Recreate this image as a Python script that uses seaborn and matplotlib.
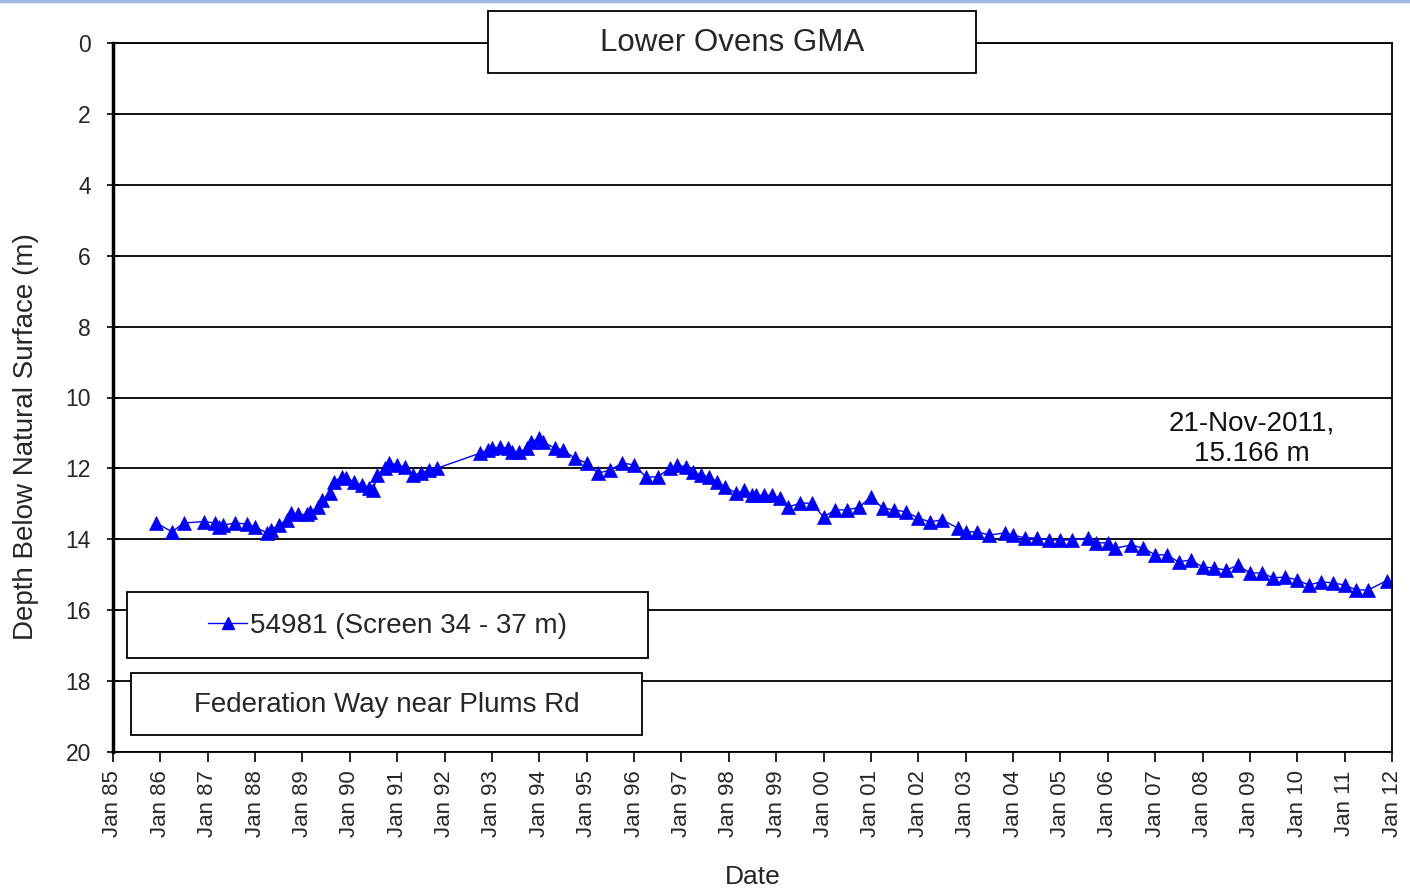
import matplotlib
matplotlib.use("Agg")
import matplotlib.pyplot as plt
import matplotlib.dates as mdates
from matplotlib.patches import Rectangle
from matplotlib.lines import Line2D
import seaborn as sns
import pandas as pd

dates = ["1985-12", "1986-04", "1986-07", "1986-12", "1987-03", "1987-04", "1987-05", "1987-08",
         "1987-11", "1988-01", "1988-04", "1988-05", "1988-07", "1988-09", "1988-10", "1988-12",
         "1989-02", "1989-03", "1989-05", "1989-06", "1989-08", "1989-09", "1989-11", "1989-12",
         "1990-02", "1990-04", "1990-06", "1990-07", "1990-08", "1990-10", "1990-11", "1991-01",
         "1991-03", "1991-05", "1991-07", "1991-09", "1991-11",
         "1992-10", "1992-12", "1993-01", "1993-03", "1993-05", "1993-06", "1993-08", "1993-10",
         "1993-11", "1994-01", "1994-02", "1994-05", "1994-07", "1994-10", "1995-01", "1995-04",
         "1995-07", "1995-10", "1996-01", "1996-04", "1996-07", "1996-10", "1996-12", "1997-02",
         "1997-04", "1997-06", "1997-08", "1997-10", "1997-12", "1998-03", "1998-05", "1998-07",
         "1998-08", "1998-10", "1998-12", "1999-02", "1999-04", "1999-07", "1999-10", "2000-01",
         "2000-04", "2000-07", "2000-10", "2001-01", "2001-04", "2001-07", "2001-10", "2002-01",
         "2002-04", "2002-07", "2002-11", "2003-01", "2003-04", "2003-07", "2003-11", "2004-01",
         "2004-04", "2004-07", "2004-10", "2005-01", "2005-04", "2005-08", "2005-10", "2006-01",
         "2006-03", "2006-07", "2006-10", "2007-01", "2007-04", "2007-07", "2007-10", "2008-01",
         "2008-04", "2008-07", "2008-10", "2009-01", "2009-04", "2009-07", "2009-10", "2010-01",
         "2010-04", "2010-07", "2010-10", "2011-01", "2011-04", "2011-07", "2011-11-21"]

depth = [13.54, 13.79, 13.54, 13.50, 13.54, 13.65, 13.60, 13.54,
         13.57, 13.65, 13.82, 13.74, 13.60, 13.45, 13.27, 13.30,
         13.30, 13.22, 13.10, 12.90, 12.70, 12.38, 12.24, 12.27,
         12.38, 12.47, 12.55, 12.60, 12.19, 12.00, 11.85, 11.90,
         11.96, 12.19, 12.13, 12.05, 12.00,
         11.57, 11.48, 11.43, 11.40, 11.43, 11.54, 11.54, 11.43,
         11.26, 11.14, 11.26, 11.43, 11.48, 11.71, 11.85, 12.13,
         12.05, 11.85, 11.90, 12.24, 12.24, 12.00, 11.90, 11.96,
         12.10, 12.19, 12.24, 12.38, 12.52, 12.70, 12.62, 12.75,
         12.76, 12.76, 12.76, 12.84, 13.10, 12.98, 12.98, 13.37,
         13.17, 13.17, 13.10, 12.80, 13.12, 13.17, 13.23, 13.40,
         13.51, 13.45, 13.68, 13.79, 13.79, 13.88, 13.82, 13.88,
         13.96, 13.96, 14.02, 14.02, 14.02, 13.96, 14.10, 14.10,
         14.25, 14.16, 14.25, 14.44, 14.44, 14.64, 14.58, 14.78,
         14.81, 14.87, 14.73, 14.95, 14.95, 15.09, 15.06, 15.15,
         15.29, 15.20, 15.23, 15.29, 15.43, 15.43, 15.166]

y_ticks = [0, 2, 4, 6, 8, 10, 12, 14, 16, 18, 20]
title = "Lower Ovens GMA"
series_label = "54981 (Screen 34 - 37 m)"
site_label = "Federation Way near Plums Rd"
last_note = "21-Nov-2011,\n15.166 m"

df = pd.DataFrame({"date": pd.to_datetime(dates, format="mixed"), "depth": depth})

sns.set_theme(style="white")
plt.rcParams["font.family"] = ["Liberation Sans", "DejaVu Sans"]

fig = plt.figure(figsize=(14.10, 8.89), dpi=100)
ax = fig.add_axes([113/1410, 1-752/889, (1392-113)/1410, (752-43)/889])

sns.lineplot(data=df, x="date", y="depth", ax=ax, sort=False, color="#0000FF",
             linewidth=1.0, marker="^", markersize=9.5, markeredgecolor="#0000FF",
             markeredgewidth=0.5, estimator=None)

ax.set_xlim(pd.Timestamp("1985-01-01"), pd.Timestamp("2012-01-01"))
ax.set_ylim(20, 0)
ax.set_yticks(y_ticks)
ax.yaxis.grid(True, color="black", linewidth=1.3)
ax.xaxis.grid(False)
ax.xaxis.set_major_locator(mdates.YearLocator(1))
ax.xaxis.set_major_formatter(mdates.DateFormatter("%b %y"))
for lbl in ax.get_xticklabels():
    lbl.set_rotation(90)
ax.tick_params(axis="x", which="major", direction="out", length=7, width=1.2,
               color="black", labelsize=16, pad=6, bottom=True)
ax.tick_params(axis="y", which="major", direction="inout", length=8, width=1.2,
               color="black", labelsize=16.5, pad=12, left=True)
for s in ax.spines.values():
    s.set_color("black")
    s.set_linewidth(1.3)
ax.spines["left"].set_linewidth(2.5)
ax.set_xlabel("Date", fontsize=19, labelpad=20)
ax.set_ylabel("Depth Below Natural Surface (m)", fontsize=20)
ax.yaxis.set_label_coords((39-113)/1279, (752-437)/709)

ax.text(pd.Timestamp("2009-01-15"), 11.17, last_note, ha="center", va="center",
        fontsize=20, linespacing=1.25, color="#111111")

# Title box
fig.add_artist(Rectangle((488/1410, 1-73/889), (976-488)/1410, (73-11)/889,
                         transform=fig.transFigure, facecolor="white",
                         edgecolor="black", linewidth=1.3, zorder=5))
fig.text((488+976)/2/1410, 1-43/889, title, ha="center", va="center",
         fontsize=22.5, zorder=6)

# Legend box
fig.add_artist(Rectangle((127/1410, 1-658/889), (648-127)/1410, (658-592)/889,
                         transform=fig.transFigure, facecolor="white",
                         edgecolor="black", linewidth=1.3, zorder=5))
handle = Line2D([], [], color="#0000FF", linewidth=1.0, marker="^",
                markersize=9, markeredgecolor="#0000FF")
leg = fig.legend([handle], [series_label], loc="center",
                 bbox_to_anchor=((127+648)/2/1410, 1-626/889),
                 frameon=False, fontsize=20, handlelength=1.4, handletextpad=0.1)
leg.set_zorder(6)

# Site box
fig.add_artist(Rectangle((131/1410, 1-735/889), (642-131)/1410, (735-673)/889,
                         transform=fig.transFigure, facecolor="white",
                         edgecolor="black", linewidth=1.3, zorder=5))
fig.text((131+642)/2/1410, 1-705/889, site_label, ha="center", va="center",
         fontsize=20, zorder=6)

# Thin light-blue frame line at top of image
fig.add_artist(Line2D([0, 1], [0.999, 0.999], transform=fig.transFigure,
                      color="#9DB9E0", linewidth=2.5))

fig.savefig("out.png", dpi=100, facecolor="white")
